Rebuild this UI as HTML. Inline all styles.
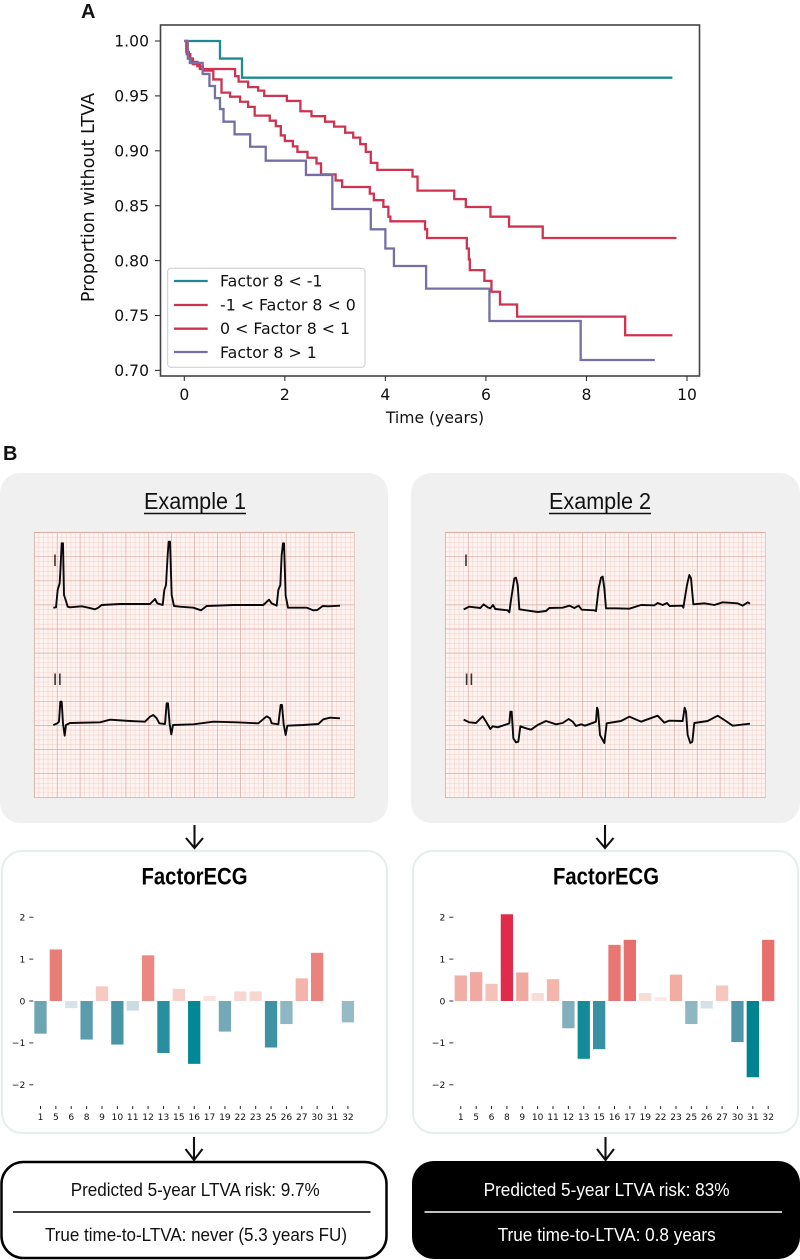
<!DOCTYPE html>
<html lang="en">
<head>
<meta charset="utf-8">
<title>FactorECG figure</title>
<style>
html,body{margin:0;padding:0;background:#fff;}
svg{display:block;}
.dj{font-family:"DejaVu Sans",sans-serif;fill:#111;}
.ls{font-family:"Liberation Sans",sans-serif;fill:#111;}
</style>
</head>
<body>
<svg id="fig" width="800" height="1260" viewBox="0 0 800 1260" xmlns="http://www.w3.org/2000/svg">
  <text class="ls" x="81" y="18" font-size="20" font-weight="700">A</text>
  <text class="ls" x="3" y="460" font-size="20" font-weight="700">B</text>

  <!-- Panel A frame -->
  <rect x="160.5" y="25" width="539" height="351" fill="#fff" stroke="#444" stroke-width="1.6"/>
  <g id="km-ticks"></g>
  <g id="km-lines"></g>
  <text class="dj" x="435" y="423" font-size="15.6" text-anchor="middle">Time (years)</text>
  <text class="dj" transform="translate(94 197.5) rotate(-90)" font-size="17.6" text-anchor="middle">Proportion without LTVA</text>

  <!-- Legend -->
  <g>
    <rect x="167.7" y="268.3" width="197.3" height="99" rx="3" fill="#fff" fill-opacity="0.85" stroke="#ccc" stroke-width="1"/>
    <g>
      <line x1="174" x2="207.7" y1="281" y2="281" stroke="#1f8a94" stroke-width="2.3"/>
      <text class="dj" x="220" y="286.6" font-size="15.8">Factor 8 &lt; -1</text>
    </g>
    <g>
      <line x1="174" x2="207.7" y1="305" y2="305" stroke="#cf3350" stroke-width="2.3"/>
      <text class="dj" x="220" y="310.4" font-size="15.8">-1 &lt; Factor 8 &lt; 0</text>
    </g>
    <g>
      <line x1="174" x2="207.7" y1="328.7" y2="328.7" stroke="#cf3350" stroke-width="2.3"/>
      <text class="dj" x="220" y="334.2" font-size="15.8">0 &lt; Factor 8 &lt; 1</text>
    </g>
    <g>
      <line x1="174" x2="207.7" y1="352" y2="352" stroke="#7470a6" stroke-width="2.3"/>
      <text class="dj" x="220" y="357.8" font-size="15.8">Factor 8 &gt; 1</text>
    </g>
  </g>

  <!-- Example cards -->
  <rect x="0" y="473" width="388" height="350" rx="20" fill="#f0f0f0"/>
  <rect x="411" y="473" width="389" height="350" rx="20" fill="#f0f0f0"/>
  <text class="ls" x="195" y="509" font-size="23" text-anchor="middle" textLength="102" lengthAdjust="spacingAndGlyphs">Example 1</text>
  <line x1="144" x2="246" y1="513.5" y2="513.5" stroke="#111" stroke-width="1.4"/>
  <text class="ls" x="600" y="509" font-size="23" text-anchor="middle" textLength="102" lengthAdjust="spacingAndGlyphs">Example 2</text>
  <line x1="549" x2="651" y1="513.5" y2="513.5" stroke="#111" stroke-width="1.4"/>
  <g id="ecg1"></g>
  <g id="ecg2"></g>
  <text class="ls" x="55" y="566" font-size="17" fill-opacity=".85" text-anchor="middle">I</text>
  <text class="ls" x="57.5" y="685" font-size="17" fill-opacity=".85" text-anchor="middle">II</text>
  <text class="ls" x="466" y="566" font-size="17" fill-opacity=".85" text-anchor="middle">I</text>
  <text class="ls" x="469" y="685" font-size="17" fill-opacity=".85" text-anchor="middle">II</text>

  <!-- Arrows -->
  <path d="M194.5 825V848M186 838L194.5 848L203 838" fill="none" stroke="#111" stroke-width="2.1"/>
  <path d="M605 825V848M596.5 838L605 848L613.5 838" fill="none" stroke="#111" stroke-width="2.1"/>
  <path d="M194 1137V1160M185.5 1149L194 1160L202.5 1149" fill="none" stroke="#111" stroke-width="2.1"/>
  <path d="M605.5 1137V1160M597 1149L605.5 1160L614 1149" fill="none" stroke="#111" stroke-width="2.1"/>

  <!-- FactorECG cards -->
  <rect x="2" y="851" width="385" height="282" rx="20" fill="#fff" stroke="#e4efea" stroke-width="2"/>
  <rect x="413" y="851" width="385" height="282" rx="20" fill="#fff" stroke="#e4efea" stroke-width="2"/>
  <text class="ls" x="194.5" y="884.5" font-size="24" font-weight="700" style="fill:#000" text-anchor="middle" textLength="106" lengthAdjust="spacingAndGlyphs">FactorECG</text>
  <text class="ls" x="606" y="884.5" font-size="24" font-weight="700" style="fill:#000" text-anchor="middle" textLength="106" lengthAdjust="spacingAndGlyphs">FactorECG</text>
  <g id="bars1"></g>
  <g id="bars2"></g>

  <!-- Outcome cards -->
  <rect x="1.5" y="1162" width="385" height="96" rx="22" fill="#fff" stroke="#000" stroke-width="2.5"/>
  <text class="ls" x="195.2" y="1196" font-size="18.5" fill="#111" text-anchor="middle" textLength="249" lengthAdjust="spacingAndGlyphs">Predicted 5-year LTVA risk: 9.7%</text>
  <line x1="13" x2="370.5" y1="1212" y2="1212" stroke="#000" stroke-width="1.5"/>
  <text class="ls" x="196" y="1241" font-size="18.5" fill="#111" text-anchor="middle" textLength="302" lengthAdjust="spacingAndGlyphs">True time-to-LTVA: never (5.3 years FU)</text>

  <rect x="412" y="1161" width="388" height="98" rx="22" fill="#000"/>
  <text class="ls" x="606.6" y="1196" font-size="18.5" style="fill:#fff" text-anchor="middle" textLength="246" lengthAdjust="spacingAndGlyphs">Predicted 5-year LTVA risk: 83%</text>
  <line x1="424.5" x2="782" y1="1212" y2="1212" stroke="#fff" stroke-width="1.5"/>
  <text class="ls" x="606.7" y="1241" font-size="18.5" style="fill:#fff" text-anchor="middle" textLength="218" lengthAdjust="spacingAndGlyphs">True time-to-LTVA: 0.8 years</text>
</svg>

<script>
// ---------- Panel A data ----------
const kmXTicks = [0, 2, 4, 6, 8, 10];
const kmYTicks = [1.00, 0.95, 0.90, 0.85, 0.80, 0.75, 0.70];

const tealTime = [0, 0.71, 1.148, 9.71];
const tealSurv = [1, 0.984, 0.9666, 0.9666];

const redUpperTime = [0, 0.04, 0.09, 0.17, 0.31, 0.92, 1.01, 1.08, 1.27, 1.47, 1.59, 2.04, 2.31, 2.53, 2.8, 2.98, 3.2, 3.36, 3.5, 3.61, 3.71, 3.84, 4.54, 4.64, 5.37, 5.6, 6.09, 6.46, 7.13, 9.79];
const redUpperSurv = [1, 0.99, 0.984, 0.9788, 0.9745, 0.9745, 0.968, 0.963, 0.958, 0.9548, 0.95, 0.9454, 0.936, 0.9315, 0.9265, 0.922, 0.9165, 0.912, 0.906, 0.899, 0.889, 0.8826, 0.8765, 0.8637, 0.856, 0.8488, 0.84, 0.831, 0.8206, 0.8206];

const redLowerTime = [0, 0.05, 0.12, 0.26, 0.37, 0.577, 0.74, 0.91, 1.11, 1.27, 1.4, 1.7, 1.82, 1.92, 2.0, 2.16, 2.25, 2.45, 2.63, 2.72, 3.01, 3.14, 3.69, 3.77, 3.96, 4.06, 4.1, 4.79, 4.83, 5.62, 5.66, 5.68, 5.97, 6.11, 6.28, 6.62, 8.77, 9.71];
const redLowerSurv = [1, 0.988, 0.981, 0.977, 0.973, 0.965, 0.953, 0.9493, 0.9447, 0.94, 0.932, 0.9274, 0.9225, 0.914, 0.909, 0.904, 0.899, 0.8937, 0.8885, 0.8785, 0.873, 0.867, 0.861, 0.855, 0.849, 0.84, 0.8358, 0.8285, 0.8206, 0.811, 0.8011, 0.7913, 0.7815, 0.7716, 0.76, 0.749, 0.732, 0.732];

const purpleTime = [0, 0.07, 0.11, 0.365, 0.5, 0.61, 0.71, 0.78, 1.0, 1.31, 1.62, 2.42, 2.945, 3.71, 4.0, 4.17, 4.81, 6.07, 7.885, 9.36];
const purpleSurv = [1, 0.984, 0.98, 0.97, 0.959, 0.948, 0.938, 0.9265, 0.915, 0.9037, 0.891, 0.878, 0.847, 0.8285, 0.811, 0.7951, 0.7745, 0.745, 0.7095, 0.7095];

// ---------- Panel B bar data ----------
const factorLabels = ["1","5","6","8","9","10","11","12","13","15","16","17","19","22","23","25","26","27","30","31","32"];
const factorValues1 = [-0.78, 1.23, -0.17, -0.92, 0.35, -1.04, -0.23, 1.09, -1.24, 0.29, -1.5, 0.12, -0.73, 0.23, 0.23, -1.11, -0.55, 0.54, 1.15, 0, -0.51];
const factorValues2 = [0.61, 0.69, 0.41, 2.07, 0.68, 0.19, 0.52, -0.65, -1.38, -1.15, 1.34, 1.46, 0.19, 0.09, 0.63, -0.55, -0.18, 0.37, -0.98, -1.82, 1.46];
const barYTicks = [2, 1, 0, -1, -2];

// ---------- ECG traces: [time unit, trace depth] samples ----------
const ex1LeadI = [[100,248],[108,247],[113,195],[119,175],[122,120],[125,55],[129,55],[132,210],[137,225],[143,245],[150,247],[185,244],[205,248],[225,253],[235,248],[245,240],[300,237],[390,237],[405,222],[412,235],[428,240],[433,195],[438,180],[443,90],[446,50],[450,50],[455,210],[462,243],[480,245],[520,248],[543,256],[560,243],[640,240],[730,240],[747,224],[755,235],[770,242],[775,195],[781,180],[785,90],[789,55],[792,55],[797,212],[804,248],[860,248],[880,256],[892,255],[908,243],[925,244],[960,242]];
const ex1LeadII = [[100,600],[112,595],[117,590],[121,530],[125,530],[129,595],[134,632],[138,600],[150,594],[240,592],[270,584],[330,588],[375,590],[390,575],[400,570],[410,580],[418,595],[435,597],[440,535],[444,535],[449,598],[454,628],[459,600],[520,598],[580,590],[650,592],[715,595],[740,574],[750,580],[755,595],[775,598],[782,540],[786,540],[791,598],[797,630],[802,602],[850,600],[895,597],[910,583],[930,578],[960,580]];
const ex2LeadI = [[98,253],[115,245],[130,247],[148,249],[158,238],[170,247],[178,250],[186,240],[193,252],[230,256],[235,262],[240,225],[250,160],[255,158],[260,180],[265,253],[285,256],[320,261],[345,258],[355,249],[395,248],[415,242],[430,249],[443,242],[452,254],[490,256],[495,258],[503,190],[510,158],[515,155],[520,190],[525,250],[555,250],[595,251],[630,240],[670,241],[680,234],[695,240],[708,234],[716,243],[755,242],[757,248],[768,180],[775,150],[780,160],[787,238],[820,235],[850,240],[875,232],[920,235],[935,242],[950,232],[957,236]];
const ex2LeadII = [[98,584],[115,592],[135,594],[155,574],[165,590],[178,612],[185,604],[200,607],[235,595],[238,560],[242,560],[247,640],[255,652],[262,650],[268,604],[285,610],[300,614],[320,600],[345,588],[375,598],[395,594],[413,582],[425,590],[435,603],[450,598],[462,602],[495,590],[498,548],[501,555],[507,630],[520,654],[527,595],[570,588],[595,575],[630,590],[680,572],[700,593],[715,587],[755,588],[761,548],[765,560],[770,630],[778,654],[784,650],[790,594],[830,588],[860,572],[880,585],[905,602],[957,596]];

// ---------- helpers ----------
const NS = "http://www.w3.org/2000/svg";
function el(tag, attrs, parent, text) {
  const e = document.createElementNS(NS, tag);
  for (const k in attrs) e.setAttribute(k, attrs[k]);
  if (text !== undefined) e.textContent = text;
  parent.appendChild(e);
  return e;
}

// ---------- Panel A ----------
const kmX = t => 184.3 + t * 50.27;
const kmY = s => 41 + (1 - s) * 1098;
const kmTickGroup = document.getElementById("km-ticks");
kmXTicks.forEach(t => {
  const tick = el("line", {x1: kmX(t), x2: kmX(t), y1: 376, y2: 381, stroke: "#333", "stroke-width": 1.1}, kmTickGroup);
  
  
  const label = el("text", {x: kmX(t), y: 400, "font-size": 15.6, "text-anchor": "middle", class: "dj"}, kmTickGroup, String(t));
  
  
});
kmYTicks.forEach(s => {
  const tick = el("line", {x1: 155, x2: 160, y1: kmY(s), y2: kmY(s), stroke: "#333", "stroke-width": 1.1}, kmTickGroup);
  
  
  const label = el("text", {x: 149, y: kmY(s) + 5.7, "font-size": 15.6, "text-anchor": "end", class: "dj"}, kmTickGroup, s.toFixed(2));
  
  
});
function stepPath(times, surv) {
  let d = "M" + kmX(times[0]).toFixed(2) + " " + kmY(surv[0]).toFixed(2);
  for (let i = 1; i < times.length; i++) {
    d += "H" + kmX(times[i]).toFixed(2) + "V" + kmY(surv[i]).toFixed(2);
  }
  return d;
}
const kmLines = document.getElementById("km-lines");
const curveTeal = el("path", {d: stepPath(tealTime, tealSurv), fill: "none", stroke: "#1f8a94", "stroke-width": 2.3}, kmLines);


const curveRedUpper = el("path", {d: stepPath(redUpperTime, redUpperSurv), fill: "none", stroke: "#cf3350", "stroke-width": 2.3}, kmLines);


const curveRedLower = el("path", {d: stepPath(redLowerTime, redLowerSurv), fill: "none", stroke: "#cf3350", "stroke-width": 2.3}, kmLines);


const curvePurple = el("path", {d: stepPath(purpleTime, purpleSurv), fill: "none", stroke: "#7470a6", "stroke-width": 2.3}, kmLines);



// ---------- ECG ----------
function drawEcg(groupId, originX, leadA, leadB) {
  const g = document.getElementById(groupId);
  const left = originX + 14.3, right = left + 320, top = 532.3, bottom = 797.7;
  const paper = el("rect", {x: left, y: top, width: 320, height: bottom - top, fill: "#fdf3f0", stroke: "#e2b6ae", "stroke-width": 0.7}, g);
  
  
  let minor = "", major = "";
  const dx = 22.9 / 5, dy = 24.1 / 5;
  for (let i = 0; left + i * dx <= right + 0.5; i++) {
    const x = (left + i * dx).toFixed(2);
    if (i % 5 === 0) major += "M" + x + " " + top + "V" + bottom; else minor += "M" + x + " " + top + "V" + bottom;
  }
  for (let j = 0; bottom - j * dy >= top - 0.5; j++) {
    const y = (bottom - j * dy).toFixed(2);
    if (j % 5 === 0) major += "M" + left + " " + y + "H" + right; else minor += "M" + left + " " + y + "H" + right;
  }
  const minorGrid = el("path", {d: minor, stroke: "#f4d3cd", "stroke-width": 0.6, fill: "none"}, g);
  
  
  const majorGrid = el("path", {d: major, stroke: "#dba89f", "stroke-width": 0.7, fill: "none"}, g);
  
  
  const ex = t => originX + t / 3;
  const ey = v => 525 + v / 3;
  [leadA, leadB].forEach((lead, n) => {
    const d = lead.map((p, i) => (i ? "L" : "M") + ex(p[0]).toFixed(2) + " " + ey(p[1]).toFixed(2)).join("");
    const trace = el("path", {d: d, fill: "none", stroke: "#0a0a0a", "stroke-width": 1.9, "stroke-linejoin": "round"}, g);
    
    
  });
}
drawEcg("ecg1", 20, ex1LeadI, ex1LeadII);
drawEcg("ecg2", 431, ex2LeadI, ex2LeadII);

// ---------- Bars ----------
const posStops = [[0,255,255,255],[0.09,250,232,228],[0.5,243,183,174],[1.2,233,127,121],[1.46,231,111,108],[2.07,224,43,74]];
const negStops = [[0,255,255,255],[0.2,207,223,229],[0.55,143,182,195],[1.0,79,149,168],[1.5,0,136,148],[1.82,0,131,145]];
function barColor(v) {
  const stops = v >= 0 ? posStops : negStops;
  const m = Math.min(Math.abs(v), stops[stops.length - 1][0]);
  for (let i = 1; i < stops.length; i++) {
    if (m <= stops[i][0]) {
      const a = stops[i - 1], b = stops[i], f = (m - a[0]) / (b[0] - a[0]);
      return "rgb(" + [1, 2, 3].map(c => Math.round(a[c] + (b[c] - a[c]) * f)).join(",") + ")";
    }
  }
  return "rgb(0,0,0)";
}
function drawBars(groupId, firstX, tickLabelX, values) {
  const g = document.getElementById(groupId);
  const bx = i => firstX + i * 15.37;
  const by = v => 1001 - v * 41.9;
  barYTicks.forEach(t => {
    const tick = el("line", {x1: tickLabelX + 4, x2: tickLabelX + 8, y1: by(t), y2: by(t), stroke: "#222", "stroke-width": 0.9}, g);
    
    
    const label = el("text", {x: tickLabelX, y: by(t) + 3.3, "font-size": 9.2, "text-anchor": "end", class: "dj"}, g, String(t).replace("-", "\u2212"));
    
    
  });
  values.forEach((v, i) => {
    const bar = el("rect", {x: bx(i) - 6.15, y: Math.min(by(v), by(0)), width: 12.3, height: Math.abs(by(v) - by(0)), fill: barColor(v)}, g);
    
    
    const tick = el("line", {x1: bx(i), x2: bx(i), y1: 1106, y2: 1109, stroke: "#222", "stroke-width": 1}, g);
    
    
    const label = el("text", {x: bx(i), y: 1120, "font-size": 9.1, "text-anchor": "middle", class: "dj"}, g, factorLabels[i]);
    
    
  });
}
drawBars("bars1", 40.5, 25.3, factorValues1);
drawBars("bars2", 460.8, 445.3, factorValues2);
</script>
</body>
</html>
